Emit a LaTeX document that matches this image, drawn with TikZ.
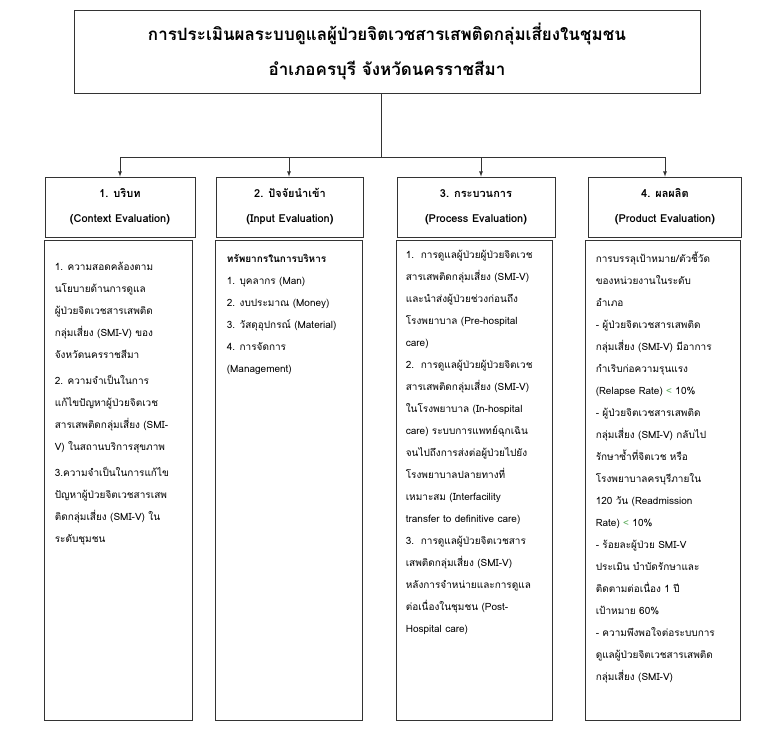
\documentclass[tikz,border=0pt]{standalone}
\usepackage{fontspec}
\setmainfont[Script=Thai]{Loma}
\usetikzlibrary{positioning}
\definecolor{ltgreen}{RGB}{90,170,90}
\tikzset{
  boxline/.style={draw=black!80, line width=0.8pt},
  head/.style={boxline, minimum height=60pt, align=center, font=\fontsize{11}{25}\selectfont\bfseries},
  body/.style={boxline, minimum height=480pt, anchor=north},
  txt/.style={anchor=north west, align=left, inner sep=0pt, font=\fontsize{10}{22}\selectfont},
  arr/.style={-latex, line width=0.8pt, black!80}
}
\begin{document}
\begin{tikzpicture}[x=1pt,y=-1pt]
  \useasboundingbox (0,0) rectangle (781,731);
  % title
  \node[boxline, minimum width=626pt, minimum height=83pt, align=center,
        font=\fontsize{17}{35}\selectfont\bfseries] (title) at (387,51.5)
    {การประเมินผลระบบดูแลผู้ป่วยจิตเวชสารเสพติดกลุ่มเสี่ยงในชุมชน\\อำเภอครบุรี จังหวัดนครราชสีมา};

  % headers
  \node[head, minimum width=150pt] (h1) at (120,207) {1. บริบท\\(Context Evaluation)};
  \node[head, minimum width=147pt] (h2) at (290,207) {2. ปัจจัยนำเข้า\\(Input Evaluation)};
  \node[head, minimum width=158pt] (h3) at (476,207) {3. กระบวนการ\\(Process Evaluation)};
  \node[head, minimum width=153pt] (h4) at (665,207) {4. ผลผลิต\\(Product Evaluation)};

  % connectors
  \coordinate (split) at (381,157);
  \coordinate (c1) at (120,157);
  \coordinate (c2) at (289,157);
  \coordinate (c3) at (481,157);
  \coordinate (c4) at (665,157);
  \draw[boxline] (title.south -| split) -- (split);
  \draw[boxline] (c1) -- (c4);
  \draw[arr] (c1) -- (h1);
  \draw[arr] (c2) -- (h2.north -| c2);
  \draw[arr] (c3) -- (h3.north -| c3);
  \draw[arr] (c4) -- (h4);

  % bodies
  \node[body, minimum width=148pt] (b1) at (118,240) {};
  \node[body, minimum width=147pt] (b2) at (288.5,240) {};
  \node[body, minimum width=156pt] (b3) at (474,240) {};
  \node[body, minimum width=155pt] (b4) at (662.5,240) {};

  \node[txt] (t1) at ([xshift=11pt,yshift=-22pt]b1.north west) {%
    1. ความสอดคล้องตาม\\นโยบายด้านการดูแล\\ผู้ป่วยจิตเวชสารเสพติด\\กลุ่มเสี่ยง (SMI-V) ของ\\จังหวัดนครราชสีมา\\[4pt]
    2. ความจำเป็นในการ\\แก้ไขปัญหาผู้ป่วยจิตเวช\\สารเสพติดกลุ่มเสี่ยง (SMI-\\V) ในสถานบริการสุขภาพ\\[4pt]
    3.ความจำเป็นในการแก้ไข\\ปัญหาผู้ป่วยจิตเวชสารเสพ\\ติดกลุ่มเสี่ยง (SMI-V) ใน\\ระดับชุมชน};
  \node[txt] (t2) at ([xshift=12pt,yshift=-14pt]b2.north west) {%
    \textbf{ทรัพยากรในการบริหาร}\\1. บุคลากร (Man)\\2. งบประมาณ (Money)\\3. วัสดุอุปกรณ์ (Material)\\4. การจัดการ\\(Management)};
  \node[txt] (t3) at ([xshift=10pt,yshift=-10pt]b3.north west) {%
    1.\ \ การดูแลผู้ป่วยผู้ป่วยจิตเวช\\สารเสพติดกลุ่มเสี่ยง (SMI-V)\\และนำส่งผู้ป่วยช่วงก่อนถึง\\โรงพยาบาล (Pre-hospital\\care)\\
    2.\ \ การดูแลผู้ป่วยผู้ป่วยจิตเวช\\สารเสพติดกลุ่มเสี่ยง (SMI-V)\\ในโรงพยาบาล (In-hospital\\care) ระบบการแพทย์ฉุกเฉิน\\จนไปถึงการส่งต่อผู้ป่วยไปยัง\\โรงพยาบาลปลายทางที่\\เหมาะสม (Interfacility\\transfer to definitive care)\\
    3.\ \ การดูแลผู้ป่วยจิตเวชสาร\\เสพติดกลุ่มเสี่ยง (SMI-V)\\หลังการจำหน่ายและการดูแล\\ต่อเนื่องในชุมชน (Post-\\Hospital care)};
  \node[txt] (t4) at ([xshift=11pt,yshift=-12pt]b4.north west) {%
    การบรรลุเป้าหมาย/ตัวชี้วัด\\ของหน่วยงานในระดับ\\อำเภอ\\
    - ผู้ป่วยจิตเวชสารเสพติด\\กลุ่มเสี่ยง (SMI-V) มีอาการ\\กำเริบก่อความรุนแรง\\(Relapse Rate) \textcolor{ltgreen}{<} 10\%\\
    - ผู้ป่วยจิตเวชสารเสพติด\\กลุ่มเสี่ยง (SMI-V) กลับไป\\รักษาซ้ำที่จิตเวช หรือ\\โรงพยาบาลครบุรีภายใน\\120 วัน (Readmission\\Rate) \textcolor{ltgreen}{<} 10\%\\
    - ร้อยละผู้ป่วย SMI-V\\ประเมิน บำบัดรักษาและ\\ติดตามต่อเนื่อง 1 ปี\\เป้าหมาย 60\%\\
    - ความพึงพอใจต่อระบบการ\\ดูแลผู้ป่วยจิตเวชสารเสพติด\\กลุ่มเสี่ยง (SMI-V)};
\end{tikzpicture}
\end{document}
